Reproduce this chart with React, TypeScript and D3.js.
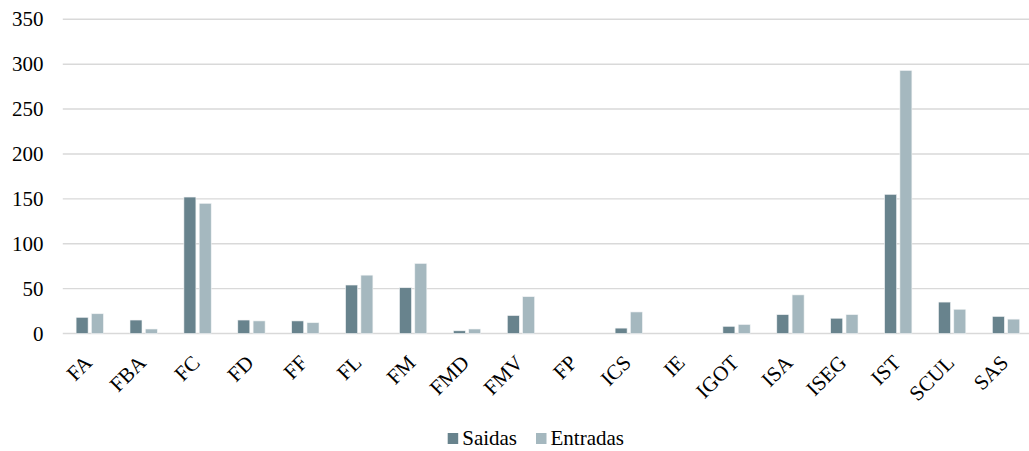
import React, { useEffect, useRef } from "react";
import * as d3 from "d3";

// categories and values
var categories = ["FA", "FBA", "FC", "FD", "FF", "FL", "FM", "FMD", "FMV", "FP", "ICS", "IE", "IGOT", "ISA", "ISEG", "IST", "SCUL", "SAS"];
var saidas = [18, 15, 152, 15, 14, 54, 51, 3, 20, 0, 6, 0, 8, 21, 17, 155, 35, 19];
var entradas = [22, 5, 145, 14, 12, 65, 78, 5, 41, 0, 24, 0, 10, 43, 21, 293, 27, 16];
var yTicks = [0, 50, 100, 150, 200, 250, 300, 350];
var seriesNames = ["Saidas", "Entradas"];
var seriesColors = ["#68838d", "#a5b8bf"];

var W = 1029, H = 451;
var FONT = "Liberation Serif, serif";

function App() {
    const ref = useRef<SVGSVGElement>(null);

    useEffect(() => {
        var svg = d3.select(ref.current);
        svg.selectAll("*").remove();

        var x = d3.scaleBand<string>()
            .domain(categories)
            .range([62.8, 1033])
            .paddingInner(0)
            .paddingOuter(0);
        var y = d3.scaleLinear()
            .domain([0, 350])
            .range([333.5, 19.3]);

        // gridlines
        svg.append("g")
            .selectAll("line")
            .data(yTicks)
            .enter()
            .append("line")
            .attr("x1", 62.8)
            .attr("x2", W)
            .attr("y1", (d) => y(d))
            .attr("y2", (d) => y(d))
            .attr("stroke", "#d9d9d9")
            .attr("stroke-width", 1.4);

        // y labels
        svg.append("g")
            .selectAll("text")
            .data(yTicks)
            .enter()
            .append("text")
            .attr("x", 43.5)
            .attr("y", (d) => y(d) + 7)
            .attr("text-anchor", "end")
            .attr("font-family", FONT)
            .attr("font-size", 21)
            .attr("fill", "#000")
            .text((d) => d);

        // bars, two per category
        var bw = 12, gap = 3.3;
        var series = [saidas, entradas];
        series.forEach((vals, si) => {
            var g = svg.append("g");
            vals.forEach((v, i) => {
                if (v <= 0) return;
                var center = x(categories[i])! + x.bandwidth() / 2;
                var left = si === 0 ? center - gap / 2 - bw : center + gap / 2;
                g.append("rect")
                    .attr("x", left)
                    .attr("y", y(v))
                    .attr("width", bw)
                    .attr("height", y(0) - y(v))
                    .attr("fill", seriesColors[si])
                    .attr("stroke", "#f2f4f5")
                    .attr("stroke-width", 0.6);
            });
        });

        // x labels
        svg.append("g")
            .selectAll("text")
            .data(categories)
            .enter()
            .append("text")
            .attr("transform", (d) => {
                var cx = x(d)! + x.bandwidth() / 2 + 3.5;
                return `translate(${cx},364) rotate(-45)`;
            })
            .attr("text-anchor", "end")
            .attr("font-family", FONT)
            .attr("font-size", 21)
            .attr("fill", "#000")
            .text((d) => d);

        // legend
        var legendX = [447.7, 536];
        seriesNames.forEach((name, i) => {
            var g = svg.append("g").attr("transform", `translate(${legendX[i]}, 433)`);
            g.append("rect")
                .attr("width", 10.5)
                .attr("height", 11)
                .attr("fill", seriesColors[i]);
            g.append("text")
                .attr("x", 14.5)
                .attr("y", 12)
                .attr("font-family", FONT)
                .attr("font-size", 21)
                .attr("fill", "#000")
                .text(name);
        });
    }, []);

    return (
        <svg ref={ref} width={W} height={H}
            style={{ position: "absolute", left: 0, top: 0, background: "#fff" }}></svg>
    );
}

export default App;
